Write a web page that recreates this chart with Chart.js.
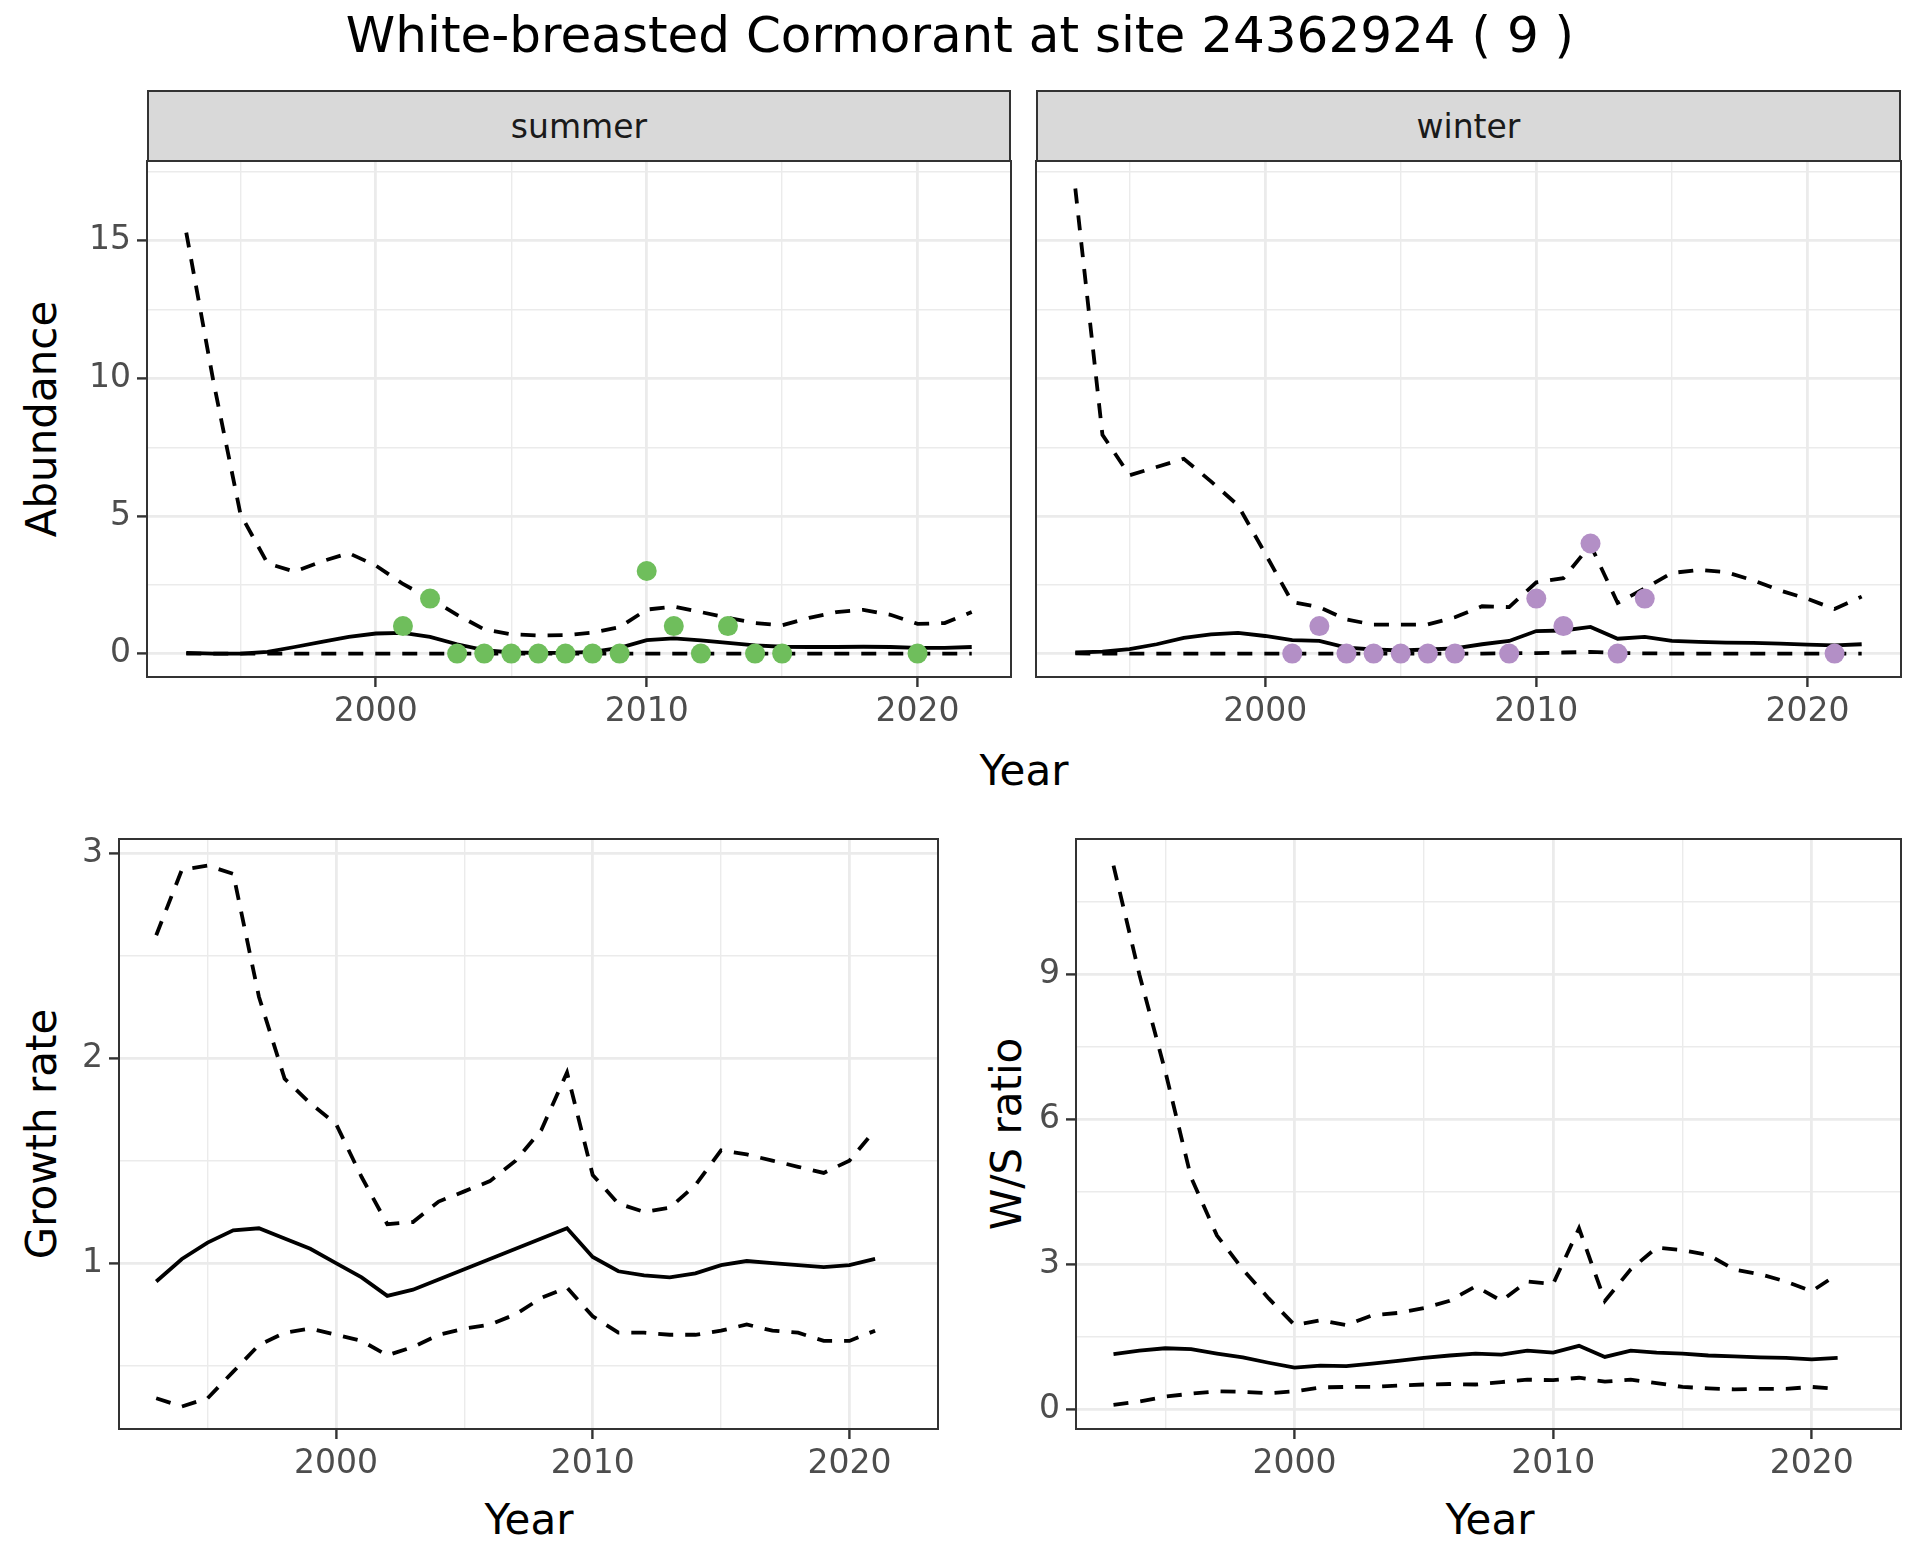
<!DOCTYPE html>
<html><head><meta charset="utf-8">
<script src="https://cdn.jsdelivr.net/npm/chart.js@4"></script>
<style>
body{margin:0;width:1920px;height:1560px;background:#fff;position:relative;font-family:"DejaVu Sans",sans-serif;overflow:hidden}
.cv{position:absolute}
.strip{position:absolute;background:#D9D9D9;border:2px solid #333333;box-sizing:border-box;display:flex;align-items:center;justify-content:center;font-size:33px;color:#1A1A1A}
.txt{position:absolute;white-space:nowrap;transform:translate(-50%,-50%);color:#000}
.rot{transform:translate(-50%,-50%) rotate(-90deg)}
</style></head><body>
<div class="txt" style="left:960px;top:35px;font-size:50px">White-breasted Cormorant at site 24362924 ( 9 )</div>
<div class="strip" style="left:147px;top:90px;width:864px;height:72px">summer</div>
<div class="strip" style="left:1036px;top:90px;width:865px;height:72px">winter</div>
<div class="txt rot" style="left:41px;top:419px;font-size:42px">Abundance</div>
<div class="txt" style="left:1024px;top:770px;font-size:42px">Year</div>
<div class="txt rot" style="left:41px;top:1134px;font-size:42px">Growth rate</div>
<div class="txt" style="left:529px;top:1519px;font-size:42px">Year</div>
<div class="txt rot" style="left:1006px;top:1134px;font-size:42px">W/S ratio</div>
<div class="txt" style="left:1490px;top:1519px;font-size:42px">Year</div>
<script>
// ---------- data ----------
const yearsTop = [1993,1994,1995,1996,1997,1998,1999,2000,2001,2002,2003,2004,2005,2006,2007,2008,2009,2010,2011,2012,2013,2014,2015,2016,2017,2018,2019,2020,2021,2022];
const summerMean  = [0.03,0.00,0.00,0.06,0.24,0.43,0.61,0.73,0.75,0.61,0.34,0.13,0.04,0.03,0.03,0.06,0.21,0.49,0.55,0.48,0.39,0.30,0.25,0.24,0.24,0.25,0.24,0.21,0.21,0.24];
const summerUpper = [15.3,9.9,5.07,3.28,2.98,3.35,3.65,3.2,2.53,2.0,1.41,0.88,0.70,0.66,0.67,0.76,0.96,1.6,1.71,1.51,1.30,1.11,1.03,1.30,1.51,1.59,1.41,1.08,1.11,1.51];
const summerLower = [0,0,0,0,0,0,0,0,0,0,0,0,0,0,0,0,0,0,0,0,0,0,0,0,0,0,0,0,0,0];
const summerObsYears  = [2001,2002,2003,2004,2005,2006,2007,2008,2009,2010,2011,2012,2013,2014,2015,2020];
const summerObsCounts = [1,2,0,0,0,0,0,0,0,3,1,0,1,0,0,0];
const winterMean  = [0.04,0.07,0.16,0.34,0.57,0.70,0.75,0.64,0.49,0.46,0.22,0.15,0.12,0.15,0.19,0.34,0.46,0.82,0.84,0.97,0.54,0.61,0.46,0.43,0.40,0.39,0.36,0.33,0.30,0.34];
const winterUpper = [16.9,7.95,6.48,6.78,7.08,6.26,5.39,3.64,1.87,1.69,1.24,1.05,1.05,1.06,1.32,1.72,1.69,2.59,2.74,3.95,1.84,2.37,2.93,3.04,2.96,2.66,2.29,1.99,1.62,2.07];
const winterLower = [0.01,0,0,0,0,0,0,0,0,0,0,0,0,0,0,0,0.01,0.02,0.04,0.06,0.02,0.01,0,0,0,0,0,0,0,0];
const winterObsYears  = [2001,2002,2003,2004,2005,2006,2007,2009,2010,2011,2012,2013,2014,2021];
const winterObsCounts = [0,1,0,0,0,0,0,0,2,1,4,0,2,0];
const yearsBottom = [1993,1994,1995,1996,1997,1998,1999,2000,2001,2002,2003,2004,2005,2006,2007,2008,2009,2010,2011,2012,2013,2014,2015,2016,2017,2018,2019,2020,2021];
const growthMean  = [0.91,1.02,1.10,1.16,1.17,1.12,1.07,1.00,0.93,0.84,0.87,0.92,0.97,1.02,1.07,1.12,1.17,1.03,0.96,0.94,0.93,0.95,0.99,1.01,1.00,0.99,0.98,0.99,1.02];
const growthUpper = [2.60,2.92,2.94,2.90,2.30,1.90,1.78,1.68,1.42,1.19,1.20,1.30,1.35,1.40,1.50,1.65,1.93,1.43,1.29,1.25,1.27,1.38,1.55,1.53,1.50,1.47,1.44,1.50,1.65];
const growthLower = [0.34,0.30,0.34,0.47,0.60,0.66,0.68,0.65,0.62,0.55,0.59,0.65,0.68,0.70,0.75,0.83,0.88,0.74,0.66,0.66,0.65,0.65,0.67,0.70,0.67,0.66,0.62,0.62,0.67];
const ratioMean   = [1.15,1.22,1.27,1.25,1.16,1.08,0.97,0.87,0.91,0.90,0.95,1.01,1.07,1.12,1.16,1.14,1.22,1.18,1.32,1.09,1.22,1.18,1.16,1.12,1.10,1.08,1.07,1.04,1.07];
const ratioUpper  = [11.25,9.0,7.0,4.8,3.6,2.9,2.3,1.75,1.85,1.75,1.95,2.0,2.1,2.25,2.55,2.25,2.65,2.6,3.75,2.25,2.9,3.35,3.3,3.2,2.9,2.8,2.65,2.45,2.8];
const ratioLower  = [0.10,0.17,0.27,0.33,0.38,0.37,0.34,0.38,0.46,0.47,0.47,0.50,0.52,0.53,0.52,0.57,0.62,0.61,0.66,0.58,0.62,0.55,0.47,0.44,0.42,0.43,0.43,0.47,0.43];
// ---------- ticks ----------
const yearMajorTicks = [2000,2010,2020];
const yearMinorTicks = [1995,2005,2015];
const abundanceMajorTicks = [0,5,10,15];
const abundanceMinorTicks = [2.5,7.5,12.5,17.5];
const growthMajorTicks = [1,2,3];
const growthMinorTicks = [0.5,1.5,2.5];
const ratioMajorTicks = [0,3,6,9];
const ratioMinorTicks = [1.5,4.5,7.5,10.5];

const PAD = 30, YW = 90, XH = 70;
const FONT = 'DejaVu Sans';
const DASH = [15,12];
const LW = 3.8;

const frame = {
  id:'frame',
  afterDraw(chart){
    const a = chart.chartArea, c = chart.ctx;
    c.save(); c.strokeStyle = '#333333'; c.lineWidth = 2;
    c.strokeRect(a.left, a.top, a.right - a.left, a.bottom - a.top);
    c.restore();
  }
};

function pts(xs, ys){ return xs.map((x,i)=>({x:x, y:ys[i]})); }

function axis(major, minor, min, max, isX, showLabels){
  const all = major.concat(minor).sort((a,b)=>a-b);
  const isMajor = v => major.indexOf(v) >= 0;
  return {
    type:'linear', min:min, max:max,
    afterBuildTicks: s => { s.ticks = all.map(v=>({value:v})); },
    afterFit: s => { if (isX) s.height = XH; else s.width = YW; },
    border:{display:false},
    grid:{
      color:'#EBEBEB',
      lineWidth: ctx => (ctx.tick && isMajor(ctx.tick.value)) ? 2.8 : 1.4,
      drawTicks: showLabels,
      tickLength: 10,
      tickColor: ctx => (ctx.tick && isMajor(ctx.tick.value)) ? '#333333' : 'rgba(0,0,0,0)',
      tickWidth: 2.4
    },
    ticks:{
      display: showLabels,
      autoSkip:false, maxRotation:0, minRotation:0,
      padding: 6,
      color:'#4D4D4D',
      font:{family:FONT, size:33},
      callback: v => isMajor(v) ? String(v) : ''
    }
  };
}

function panel(L, R, T, B, datasets, yMajor, yMinor, yMin, yMax, showY){
  const cv = document.createElement('canvas');
  const w = (R - L) + YW + 2*PAD, h = (B - T) + XH + 2*PAD;
  cv.width = w; cv.height = h;
  cv.className = 'cv';
  cv.style.left = (L - YW - PAD) + 'px';
  cv.style.top = (T - PAD) + 'px';
  cv.style.width = w + 'px'; cv.style.height = h + 'px';
  document.body.appendChild(cv);
  new Chart(cv, {
    type:'scatter',
    data:{datasets:datasets},
    options:{
      responsive:false, animation:false, devicePixelRatio:1,
      layout:{padding:{left:PAD,right:PAD,top:PAD,bottom:PAD}, autoPadding:false},
      plugins:{legend:{display:false}, tooltip:{enabled:false}},
      scales:{
        x: axis(yearMajorTicks, yearMinorTicks, 1991.55, 2023.45, true, true),
        y: axis(yMajor, yMinor, yMin, yMax, false, showY)
      }
    },
    plugins:[frame]
  });
}

function line(xs, ys, dashed){
  return {type:'line', data:pts(xs, ys), showLine:true, borderColor:'#000', borderWidth:LW,
          borderDash: dashed ? DASH : [], pointRadius:0, tension:0, fill:false};
}
function dots(xs, ys, col){
  return {type:'scatter', data:pts(xs, ys), showLine:false, pointRadius:10, pointBorderWidth:0,
          backgroundColor:col, borderColor:col, pointBackgroundColor:col};
}

const GREEN = '#6FBE5C', PURPLE = '#B38FC6';

panel(147, 1011, 161, 677, [
  dots(summerObsYears, summerObsCounts, GREEN),
  line(yearsTop, summerMean, false),
  line(yearsTop, summerUpper, true),
  line(yearsTop, summerLower, true)
], abundanceMajorTicks, abundanceMinorTicks, -0.85, 17.9, true);

panel(1036, 1901, 161, 677, [
  dots(winterObsYears, winterObsCounts, PURPLE),
  line(yearsTop, winterMean, false),
  line(yearsTop, winterUpper, true),
  line(yearsTop, winterLower, true)
], abundanceMajorTicks, abundanceMinorTicks, -0.85, 17.9, false);

panel(119, 938, 839, 1429, [
  line(yearsBottom, growthMean, false),
  line(yearsBottom, growthUpper, true),
  line(yearsBottom, growthLower, true)
], growthMajorTicks, growthMinorTicks, 0.19, 3.07, true);

panel(1076, 1901, 839, 1429, [
  line(yearsBottom, ratioMean, false),
  line(yearsBottom, ratioUpper, true),
  line(yearsBottom, ratioLower, true)
], ratioMajorTicks, ratioMinorTicks, -0.4, 11.8, true);
</script>
</body></html>
